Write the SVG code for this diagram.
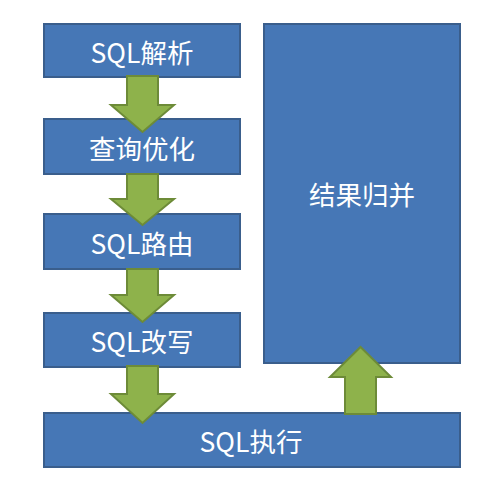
<svg xmlns="http://www.w3.org/2000/svg" width="500" height="486" viewBox="0 0 500 486">
<style>
.box{fill:#4677B6;stroke:#3A5E8C;stroke-width:2}
.lbl{fill:#FFFFFF;font-family:"Noto Sans CJK SC","Noto Sans",sans-serif;font-size:26.5px;text-anchor:middle;dominant-baseline:central}
.arr{fill:#8EB24B;stroke:#6D8B38;stroke-width:2;stroke-linejoin:miter}
</style>
<rect width="500" height="486" fill="#FFFFFF"/>
<g id="n1"><rect class="box" x="44" y="24" width="196" height="53"/><text class="lbl" x="142" y="51">SQL解析</text></g>
<g id="n2"><rect class="box" x="44" y="119" width="196" height="55"/><text class="lbl" x="142" y="147">查询优化</text></g>
<g id="n3"><rect class="box" x="44" y="214" width="196" height="55"/><text class="lbl" x="142" y="242">SQL路由</text></g>
<g id="n4"><rect class="box" x="44" y="313" width="196" height="54"/><text class="lbl" x="142" y="340">SQL改写</text></g>
<g id="n5"><rect class="box" x="44" y="413" width="416" height="54"/><text class="lbl" x="251" y="440">SQL执行</text></g>
<g id="n6"><rect class="box" x="264" y="24" width="196" height="339"/><text class="lbl" x="362" y="193">结果归并</text></g>
<g id="connectors">
<polygon class="arr" points="127,76 158,76 158,105 174,105 142.5,132 111,105 127,105"/>
<polygon class="arr" points="127,174 158,174 158,199 174,199 142.5,225 111,199 127,199"/>
<polygon class="arr" points="127,269 158,269 158,295 174,295 142.5,322 111,295 127,295"/>
<polygon class="arr" points="127,366 158,366 158,394 174,394 142.5,423 111,394 127,394"/>
<polygon class="arr" points="345,414 376,414 376,377 391,377 360.5,347 330,377 345,377"/>
</g>
</svg>
